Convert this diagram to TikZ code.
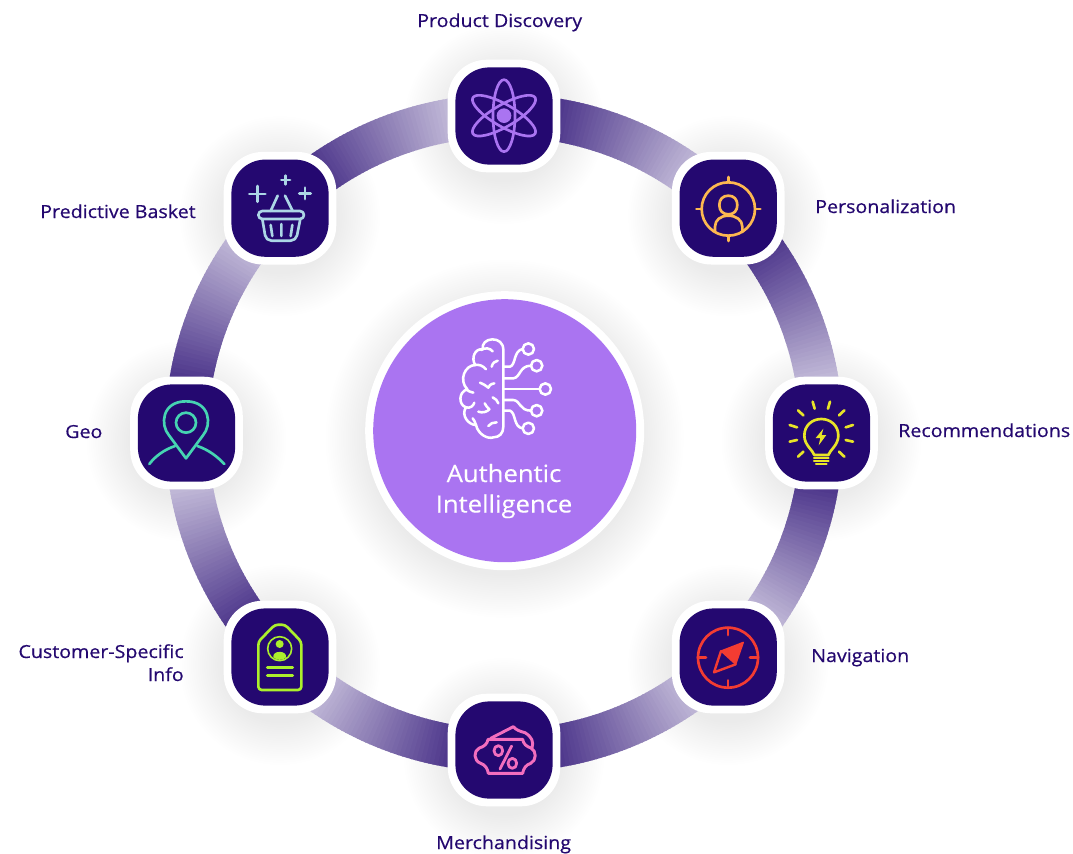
\documentclass[tikz,border=0pt]{standalone}
\usepackage{fontspec}
\usetikzlibrary{calc}
\setmainfont{Open Sans}
\newfontfamily\labfont[FakeStretch=1.09,RawFeature={embolden=0.5}]{Open Sans}
\newfontfamily\corefont[FakeStretch=1.08,RawFeature={embolden=0.25}]{Open Sans}
\definecolor{navy}{RGB}{36,8,112}
\definecolor{ringend}{RGB}{235,232,243}
\definecolor{core}{RGB}{170,116,241}
\definecolor{atomc}{RGB}{170,116,241}
\definecolor{orangec}{RGB}{253,184,80}
\definecolor{yellowc}{RGB}{232,228,40}
\definecolor{redc}{RGB}{243,60,50}
\definecolor{pinkc}{RGB}{243,110,190}
\definecolor{limec}{RGB}{172,240,44}
\definecolor{tealc}{RGB}{70,212,178}
\definecolor{bluec}{RGB}{172,214,230}
\tikzset{
  x=.75pt,y=-.75pt,
  sq/.style={insert path={(-1,-.3) .. controls (-1,-.69) and (-.69,-1) .. (-.3,-1) -- (.3,-1) .. controls (.69,-1) and (1,-.69) .. (1,-.3) -- (1,.3) .. controls (1,.69) and (.69,1) .. (.3,1) -- (-.3,1) .. controls (-.69,1) and (-1,.69) .. (-1,.3) -- cycle}},
  anchorpt/.style={inner sep=0pt,minimum size=0pt},
  lab/.style={inner sep=0pt,text=navy,font=\labfont\fontsize{13.5}{17}\selectfont,anchor=base west},
  corelab/.style={inner sep=0pt,text=white,anchor=base,font=\corefont\fontsize{17.8}{22}\selectfont},
  ico/.style={line width=2pt,line cap=round,line join=round,fill=none},
  zoomframe/.style={x=.25pt,y=-.25pt},
}
% soft shadow of a tile
\newcommand\tileshadow[1]{%
  \foreach \i in {1,...,20}{%
    \pgfmathsetmacro\hh{56+\i*2.2}
    \fill[black,opacity=.0035] ($(#1)+(0,8)$) circle[radius=\hh];
  }}
\newcommand\tile[1]{%
  \fill[white,shift={(#1)},scale=56.3,sq];
  \fill[navy,shift={(#1)},scale=48.6,sq];
}
% gradient ring segment between two tiles, dark at the first
\newcommand\ringseg[2]{%
  \pgfmathanglebetweenpoints{\pgfpointanchor{ctr}{center}}{\pgfpointanchor{#1}{center}}\let\angA\pgfmathresult
  \pgfmathanglebetweenpoints{\pgfpointanchor{ctr}{center}}{\pgfpointanchor{#2}{center}}\let\angB\pgfmathresult
  \pgfmathsetmacro\sa{-\angA}
  \pgfmathsetmacro\sb{-\angB}
  \pgfmathsetmacro\sd{mod(\sb-\sa+900,360)-180}
  \foreach \k in {0,...,59}{%
    \pgfmathsetmacro\ta{\sa+\sd*(\k/60)}
    \pgfmathsetmacro\tb{\sa+\sd*((\k+1.3)/60)}
    \pgfmathsetmacro\pc{100-100*(\k/59)}
    \fill[navy!\pc!ringend] ($(ctr)+(\ta:339)$) -- ($(ctr)+(\tb:339)$) -- ($(ctr)+(\tb:296)$) -- ($(ctr)+(\ta:296)$) -- cycle;
  }}
\begin{document}
\begin{tikzpicture}
\useasboundingbox (0,0) rectangle (1073,853);
\fill[white] (0,0) rectangle (1073,853);
\node[anchorpt] (ctr) at (504,433) {};
\node[anchorpt] (nTop) at (504,116) {};
\node[anchorpt] (nPers) at (728.2,208.2) {};
\node[anchorpt] (nRec) at (821.5,433) {};
\node[anchorpt] (nNav) at (728.2,657) {};
\node[anchorpt] (nMer) at (504,750) {};
\node[anchorpt] (nCus) at (280,657) {};
\node[anchorpt] (nGeo) at (186.5,433) {};
\node[anchorpt] (nBas) at (280,208.2) {};
\node[anchorpt] (nCore) at (504.7,430.7) {};
% shadows
\foreach \n in {nTop,nPers,nRec,nNav,nMer,nCus,nGeo,nBas}{\tileshadow{\n}}
\foreach \i in {1,...,20}{%
  \pgfmathsetmacro\rr{135+\i*2.2}
  \fill[black,opacity=.0035] ($(nCore)+(0,8)$) circle[radius=\rr];
}
% ring
\ringseg{nTop}{nPers}
\ringseg{nPers}{nRec}
\ringseg{nRec}{nNav}
\ringseg{nMer}{nNav}
\ringseg{nMer}{nCus}
\ringseg{nCus}{nGeo}
\ringseg{nGeo}{nBas}
\ringseg{nBas}{nTop}
% tiles
\foreach \n in {nTop,nPers,nRec,nNav,nMer,nCus,nGeo,nBas}{\tile{\n}}
% core
\fill[white] (nCore) circle[radius=139.5];
\fill[core] (nCore) circle[radius=131.5];
% atom (zoom frame 430,50)
\begin{scope}[zoomframe,shift={(1290,150)},atomc]
  \draw[ico,atomc] (222,197) ellipse[x radius=33,y radius=108];
  \draw[ico,atomc,rotate around={60:(222,197)}] (222,197) ellipse[x radius=33,y radius=108];
  \draw[ico,atomc,rotate around={-60:(222,197)}] (222,197) ellipse[x radius=33,y radius=108];
  \fill[atomc] (222,197) circle[radius=22];
\end{scope}
% person target
\begin{scope}[zoomframe,shift={(1290,150)}]
  \draw[ico,orangec] (895,477) circle[radius=80];
  \draw[ico,orangec] (895,381)--(895,397) (895,557)--(895,573) (799,477)--(815,477) (975,477)--(991,477);
  \draw[ico,orangec] (895,437) .. controls (912,437) and (922,448) .. (922,465) .. controls (922,482) and (912,493) .. (895,493) .. controls (878,493) and (868,482) .. (868,465) .. controls (868,448) and (878,437) .. (895,437) -- cycle;
  \draw[ico,orangec] (855,546) -- (855,530) .. controls (855,510) and (872,497) .. (895,497) .. controls (918,497) and (937,510) .. (937,530) -- (937,546);
\end{scope}
% bulb (zoom frame 660,370)
\begin{scope}[zoomframe,shift={(1980,1110)}]
  \draw[ico,yellowc] (463,255) .. controls (458,240) and (433,225) .. (433,197) .. controls (433,165) and (458,147) .. (484,147) .. controls (510,147) and (535,165) .. (535,197) .. controls (535,225) and (510,240) .. (505,255) -- cycle;
  \draw[ico,yellowc,line width=1.6pt] (462,264)--(506,264) (462,272)--(506,272) (468,281)--(500,281);
  \fill[yellowc] (490,176) -- (467,204) -- (481,204) -- (476,226) -- (499,195) -- (485,195) -- cycle;
  \draw[ico,yellowc] (458,95)--(464,116) (510,95)--(504,116) (414,121)--(430,136) (553,121)--(537,136) (389,165)--(411,172) (579,165)--(557,172) (389,215)--(411,210) (579,215)--(557,210) (414,260)--(430,245) (553,260)--(537,245);
\end{scope}
% compass (zoom frame 690,625)
\begin{scope}[zoomframe,shift={(2070,1875)}]
  \draw[ico,redc] (114,98) circle[radius=90];
  \draw[ico,redc] (114,8)--(114,30) (114,166)--(114,188) (24,98)--(48,98) (180,98)--(204,98);
  \fill[redc,draw=redc,line width=1pt,line join=round] (160,52) -- (93,78) -- (137,118) -- cycle;
  \draw[ico,redc,line width=1.8pt] (93,78) -- (72,142) -- (137,118);
\end{scope}
% merchandising (zoom frame 470,720)
\begin{scope}[zoomframe,shift={(1410,2160)}]
  \draw[ico,pinkc,line width=2.2pt] (54,58) -- (158,58) .. controls (160,72) and (170,80) .. (183,84) .. controls (200,92) and (200,122) .. (182,130) .. controls (168,134) and (160,146) .. (158,160) -- (55,160) .. controls (53,146) and (45,134) .. (32,130) .. controls (10,122) and (10,92) .. (28,84) .. controls (42,80) and (52,72) .. (54,58) -- cycle;
  \draw[ico,pinkc,line width=2.2pt] (62,55) -- (130,20) .. controls (138,30) and (150,34) .. (165,38) .. controls (185,50) and (192,65) .. (186,84);
  \draw[ico,pinkc,line width=2.1pt] (125,78) -- (90,147);
  \draw[ico,pinkc,line width=2.1pt] (85,92) ellipse[x radius=13,y radius=15];
  \draw[ico,pinkc,line width=2.1pt] (127,130) ellipse[x radius=13,y radius=15];
\end{scope}
% tag (zoom frame 210,600)
\begin{scope}[zoomframe,shift={(630,1800)}]
  \draw[ico,limec,rounded corners=2.5pt] (145,125) -- (195,74) -- (225,74) -- (274,125) -- (274,270) -- (145,270) -- cycle;
  \draw[ico,limec,line width=1.2pt] (209,146) circle[radius=36];
  \fill[limec] (209,132) circle[radius=12];
  \fill[limec] (190,172) .. controls (186,150) and (232,150) .. (228,172) .. controls (218,182) and (200,182) .. (190,172) -- cycle;
  \draw[ico,limec,line width=2.2pt] (172,203)--(248,203) (172,227)--(248,227);
\end{scope}
% pin (zoom frame 120,150)
\begin{scope}[zoomframe,shift={(360,450)}]
  \draw[ico,tealc] (198,925) -- (147,856) .. controls (120,825) and (125,754) .. (198,754) .. controls (271,754) and (276,825) .. (249,856) -- cycle;
  \draw[ico,tealc] (198,818) circle[radius=30];
  \draw[ico,tealc] (88,942) .. controls (105,920) and (130,900) .. (165,888);
  \draw[ico,tealc] (232,888) .. controls (267,900) and (292,920) .. (313,942);
\end{scope}
% basket
\begin{scope}[zoomframe,shift={(360,450)}]
  \draw[ico,bluec,line width=2.1pt] (388,132)--(436,132) (412,108)--(412,155) (484,90)--(510,90) (497,77)--(497,103) (538,130)--(572,130) (555,113)--(555,147);
  \draw[ico,bluec,rounded corners=3pt] (415,183) rectangle (552,207);
  \draw[ico,bluec,rounded corners=4pt] (427,207) -- (438,272) -- (528,272) -- (541,207);
  \draw[ico,bluec] (452,183)--(473,137) (495,137)--(518,183);
  \draw[ico,bluec] (452,225)--(457,258) (484,222)--(484,258) (517,225)--(512,258);
\end{scope}
% brain (zoom frame 430,320)
\begin{scope}[zoomframe,shift={(1290,960)},white]
  \tikzset{brn/.style={ico,white,line width=1.9pt}}
  \draw[brn] (220,90) .. controls (220,68) and (205,58) .. (187,58) .. controls (168,58) and (155,72) .. (158,88) .. controls (135,84) and (122,115) .. (136,135) .. controls (105,135) and (85,180) .. (112,208) .. controls (85,215) and (85,255) .. (108,262) .. controls (92,285) and (115,315) .. (138,315) .. controls (145,345) and (175,358) .. (190,352) .. controls (208,352) and (220,340) .. (220,320) -- cycle;
  \draw[brn] (153,90) .. controls (165,82) and (180,84) .. (188,94);
  \draw[brn] (132,135) .. controls (148,132) and (160,138) .. (168,148);
  \draw[brn] (108,208) .. controls (115,215) and (122,215) .. (130,218);
  \draw[brn] (108,262) .. controls (120,266) and (130,258) .. (133,248);
  \draw[brn] (138,315) .. controls (135,305) and (132,300) .. (128,295);
  \draw[brn] (185,140) .. controls (188,128) and (195,124) .. (203,122);
  \draw[brn] (150,188) .. controls (160,192) and (168,197) .. (175,203) .. controls (176,197) and (182,192) .. (193,190);
  \draw[brn] (188,232) .. controls (197,236) and (202,242) .. (205,250);
  \draw[brn] (145,275) .. controls (158,280) and (172,275) .. (178,268) .. controls (172,262) and (168,258) .. (164,250);
  \draw[brn] (175,318) .. controls (180,310) and (190,307) .. (200,307);
  \draw[brn] (295,87) circle[radius=17] (320,137) circle[radius=17] (346,207) circle[radius=17] (320,272) circle[radius=17] (295,325) circle[radius=17];
  \draw[brn] (222,140) -- (240,140) .. controls (258,135) and (250,92) .. (278,87);
  \draw[brn] (222,175) -- (250,175) .. controls (272,172) and (268,137) .. (303,137);
  \draw[brn] (222,207) -- (329,207);
  \draw[brn] (222,240) -- (250,240) .. controls (272,242) and (268,272) .. (303,272);
  \draw[brn] (222,272) -- (240,272) .. controls (258,278) and (250,322) .. (278,325);
\end{scope}
% labels
\node[lab] (tTop) at (417,27) {Product Discovery};
\node[lab] (tPers) at (815,213) {Personalization};
\node[lab] (tRec) at (898,437) {Recommendations};
\node[lab] (tNav) at (811,662) {Navigation};
\node[lab] (tMer) at (436,849) {Merchandising};
\node[lab,anchor=base east] (tCus1) at (184,658) {Customer-Specific};
\node[lab,anchor=base east] (tCus2) at (184,681) {Info};
\node[lab] (tGeo) at (65,438) {Geo};
\node[lab] (tBas) at (40,218) {Predictive Basket};
\node[corelab] (tAu) at (504,482) {Authentic};
\node[corelab] (tIn) at (504,512.5) {Intelligence};
\end{tikzpicture}
\end{document}
